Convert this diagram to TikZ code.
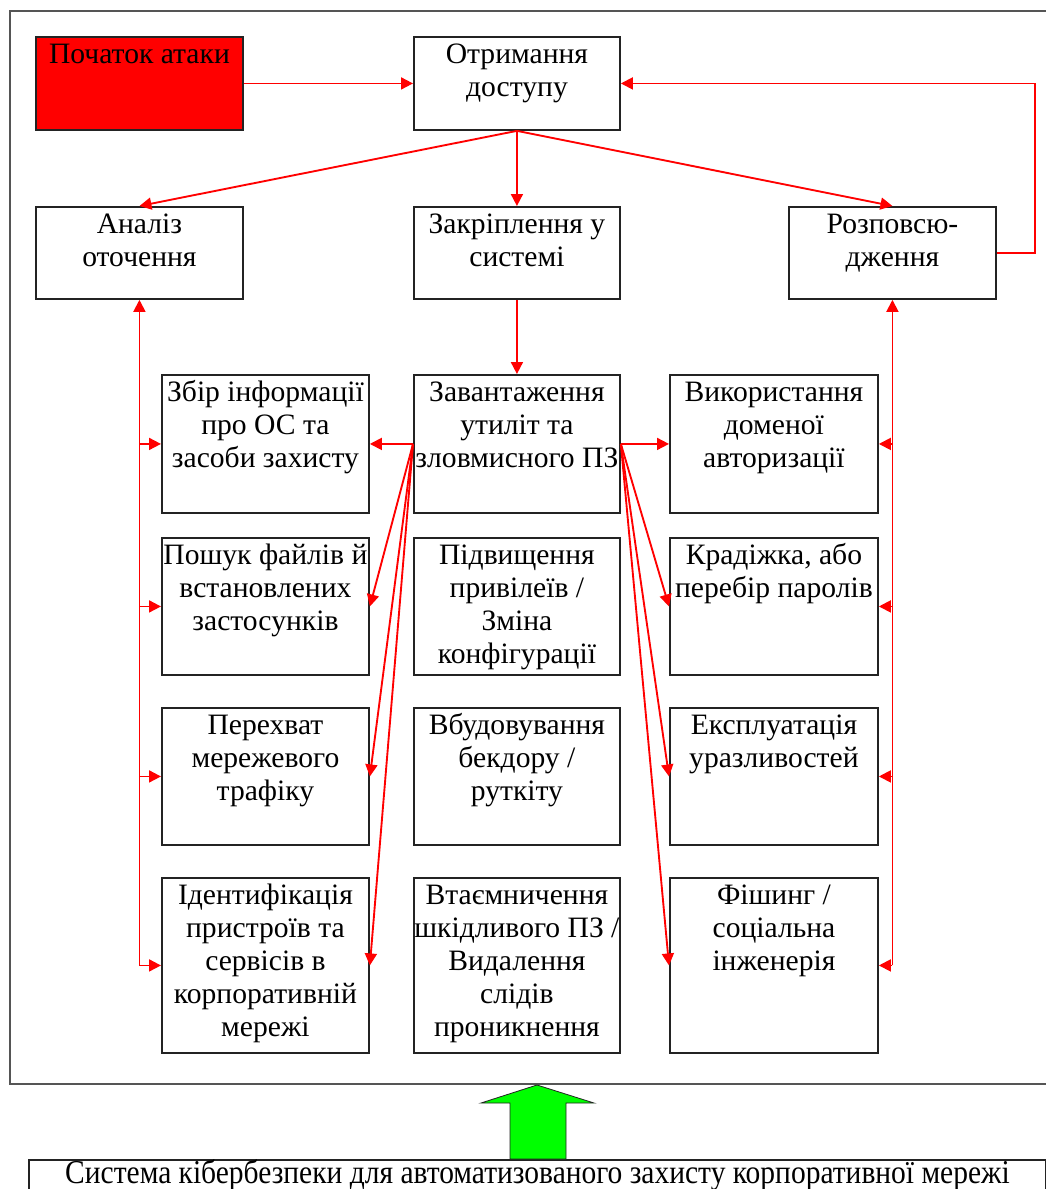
\documentclass[tikz,border=0pt]{standalone}
\usepackage{fontspec}
\setmainfont{Liberation Serif}
\usetikzlibrary{arrows.meta}

\definecolor{linkred}{RGB}{255,0,0}
\definecolor{framegray}{RGB}{85,85,85}
\definecolor{boxgray}{RGB}{35,35,35}
\definecolor{arrowgreen}{RGB}{0,255,0}

\tikzset{
  box/.style={draw=boxgray, line width=1.4pt, inner sep=0pt, rectangle},
  lbl/.style={inner sep=0pt, align=center, font=\fontsize{22.2}{24.75}\selectfont},
  conn/.style={draw=linkred, line width=1.4pt, -{Triangle[length=9pt,width=9pt]}},
}
% first-line strut: puts the first baseline 27 units below the box top
\newcommand\firstln{\rule{0pt}{20.25pt}}
% \blk[style]{name}{x}{y}{w}{h}{text}
\newcommand\blk[7][]{%
  \node[box,#1,minimum width=#5*0.75pt,minimum height=#6*0.75pt,anchor=north west] (#2) at (#3,#4) {};
  \node[lbl,anchor=north] (#2t) at (#2.north) {\firstln #7};
}

\begin{document}
\begin{tikzpicture}[x=0.75pt,y=-0.75pt]
\clip (0,0) rectangle (1046,1189);
\fill[white] (0,0) rectangle (1046,1189);

% outer frame
\draw[framegray, line width=1.6pt] (10,11) rectangle (1060,1084);

% top row
\blk[fill=linkred]{start}{35}{36}{207}{93}{Початок атаки}
\blk{acc}{413}{36}{206}{93}{Отримання\\доступу}

% second row
\blk{ana}{35}{206}{207}{92}{Аналіз\\оточення}
\blk{fix}{413}{206}{206}{92}{Закріплення у\\системі}
\blk{spr}{788}{206}{207}{92}{Розповсю-\\дження}

% left column
\blk{l1}{161}{374}{207}{138}{Збір інформації\\про ОС та\\засоби захисту}
\blk{l2}{161}{537}{207}{137}{Пошук файлів й\\встановлених\\застосунків}
\blk{l3}{161}{707}{207}{137}{Перехват\\мережевого\\трафіку}
\blk{l4}{161}{877}{207}{175}{Ідентифікація\\пристроїв та\\сервісів в\\корпоративній\\мережі}

% middle column
\blk{m1}{413}{374}{206}{138}{Завантаження\\утиліт та\\зловмисного ПЗ}
\blk{m2}{413}{537}{206}{137}{Підвищення\\привілеїв /\\Зміна\\конфігурації}
\blk{m3}{413}{707}{206}{137}{Вбудовування\\бекдору /\\руткіту}
\blk{m4}{413}{877}{206}{175}{Втаємничення\\шкідливого ПЗ /\\Видалення\\слідів\\проникнення}

% right column
\blk{r1}{669}{374}{208}{138}{Використання\\доменої\\авторизації}
\blk{r2}{669}{537}{208}{137}{Крадіжка, або\\перебір паролів}
\blk{r3}{669}{707}{208}{137}{Експлуатація\\уразливостей}
\blk{r4}{669}{877}{208}{175}{Фішинг /\\соціальна\\інженерія}

% top connectors
\draw[conn] (start.east) -- (acc.west);
\draw[conn] (acc.south) -- (ana.north);
\draw[conn] (acc.south) -- (fix.north);
\draw[conn] (acc.south) -- (spr.north);
\draw[conn] (spr.east) -- ++(38,0) |- (acc.east);
\draw[conn] (fix.south) -- (m1.north);

% left bus
\coordinate (lb) at (138,965);
\draw[conn] (ana.south |- lb) -- (ana.south);
\foreach \b in {l1,l2,l3,l4}
  \draw[conn] (ana.south |- \b.west) -- (\b.west);

% right bus
\coordinate (rb) at (891,965);
\draw[conn] (spr.south |- rb) -- (spr.south);
\foreach \b in {r1,r2,r3,r4}
  \draw[conn] (spr.south |- \b.east) -- (\b.east);

% fan-out from the malware loading step
\foreach \b in {l1,l2,l3,l4}
  \draw[conn] (m1.west) -- (\b.east);
\foreach \b in {r1,r2,r3,r4}
  \draw[conn] (m1.east) -- (\b.west);

% protection system
\node[box, minimum width=1017*0.75pt, minimum height=60*0.75pt, anchor=north west] (sys) at (28,1159) {};
\node[lbl, anchor=north, font=\fontsize{25}{28}\selectfont] (syst) at (sys.north)
  {\rule{0pt}{17.25pt}\scalebox{0.885}[1]{Система кібербезпеки для автоматизованого захисту корпоративної мережі}};

% upward arrow from the protection system
\filldraw[fill=arrowgreen, draw=boxgray, line width=0.6pt]
  (537,1085) -- (594,1103) -- (566,1103) -- (566,1159) -- (510,1159)
  -- (510,1103) -- (481,1103) -- cycle;
\end{tikzpicture}
\end{document}
